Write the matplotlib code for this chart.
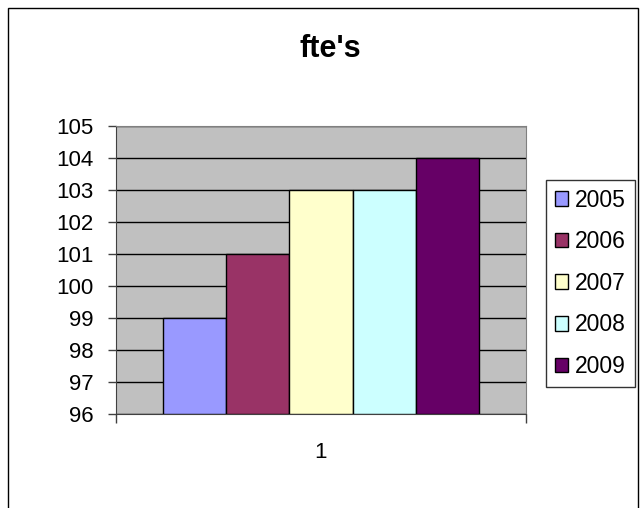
import matplotlib.pyplot as plt
from matplotlib.patches import Rectangle
import numpy as np

plt.rcParams['font.family'] = ['Liberation Sans', 'DejaVu Sans']

years = ['2005', '2006', '2007', '2008', '2009']
fte = [99, 101, 103, 103, 104]
colors = ['#9999FF', '#993366', '#FFFFCC', '#CCFFFF', '#660066']
category = ['1']

W, H = 640, 508
fig = plt.figure(figsize=(W / 100, H / 100), dpi=100)

# chart frame (open at the bottom)
fig.patches.append(Rectangle((8 / W, -0.1), 630 / W, 1.1 - 8 / H,
                             transform=fig.transFigure, fill=False,
                             edgecolor='black', linewidth=1.0))

ax = fig.add_axes([116 / W, 1 - 414 / H, (526 - 116) / W, (414 - 126) / H])
ax.set_facecolor('#C0C0C0')

n = len(years)
width = 1.0 / (n + 1.5)
x = np.arange(len(category))
for i, (yr, val, c) in enumerate(zip(years, fte, colors)):
    ax.bar(x + (i - (n - 1) / 2) * width, val - 96, width, bottom=96,
           color=c, edgecolor='black', linewidth=1.0, label=yr, zorder=3)

ax.set_ylim(96, 105)
ax.set_xlim(-0.5, 0.5)
ax.set_yticks(np.arange(96, 106, 1))
ax.yaxis.grid(True, color='black', linewidth=1.0, zorder=1)
ax.set_axisbelow(True)
ax.tick_params(axis='y', direction='out', length=6, width=1, color='#404040',
               labelsize=16, pad=10)

ax.set_xticks(x)
ax.set_xticklabels(category)
ax.set_xticks([-0.5, 0.5], minor=True)
ax.tick_params(axis='x', which='major', length=0, labelsize=16, pad=20)
ax.tick_params(axis='x', which='minor', direction='out', length=6.5, width=1,
               color='#404040')

for s in ['top', 'right']:
    ax.spines[s].set_color('#808080')
for s in ['left', 'bottom']:
    ax.spines[s].set_color('#404040')

fig.text(330 / W, 1 - 57 / H, "fte's", ha='center', va='baseline',
         fontsize=22, fontweight='bold')

leg = fig.legend(loc='upper left', bbox_to_anchor=(546 / W, 1 - 180 / H),
                 frameon=True, fancybox=False, edgecolor='black',
                 fontsize=16.5, handlelength=0.6, handleheight=0.6,
                 handletextpad=0.3, labelspacing=0.81, borderpad=0.38,
                 borderaxespad=0)
leg.get_frame().set_linewidth(1.0)

fig.savefig('out.png', dpi=100)
